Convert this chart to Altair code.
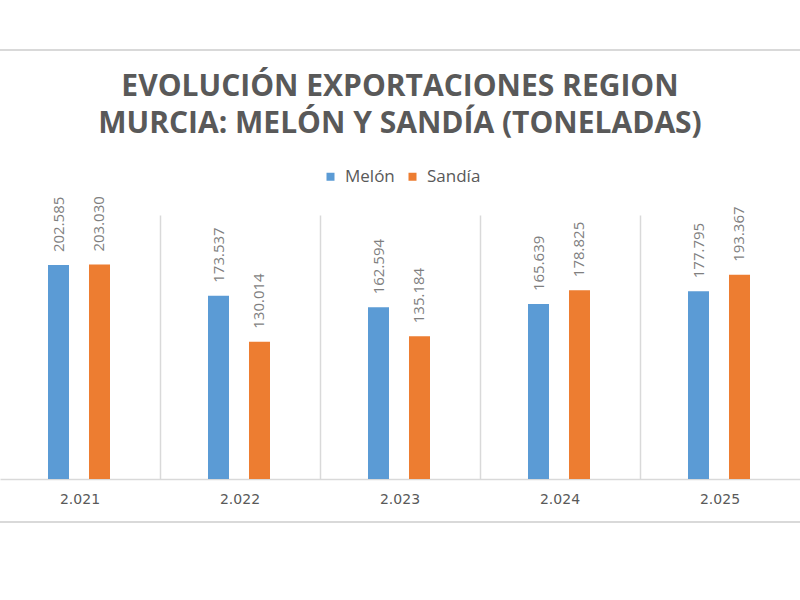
import altair as alt
import pandas as pd

years = ["2.021", "2.022", "2.023", "2.024", "2.025"]
melon = [202585, 173537, 162594, 165639, 177795]
sandia = [203030, 130014, 135184, 178825, 193367]
series = ["Melón", "Sandía"]
colors = ["#5b9bd5", "#ed7d31"]

rows = []
for i, y in enumerate(years):
    rows.append({"year": y, "serie": "Melón", "value": melon[i]})
    rows.append({"year": y, "serie": "Sandía", "value": sandia[i]})
df = pd.DataFrame(rows)

FONT = "Open Sans"

x_enc = alt.X(
    "year:N",
    sort=years,
    title=None,
    scale=alt.Scale(paddingInner=0, paddingOuter=0),
    axis=alt.Axis(
        grid=True,
        gridColor="#d9d9d9",
        gridWidth=1.5,
        gridOpacity={"condition": {"test": "datum.value === '2.021'", "value": 0}, "value": 1},
        bandPosition=0,
        ticks=False,
        domainColor="#d9d9d9",
        domainWidth=1.5,
        labelFont="DejaVu Sans",
        labelFontSize=14,
        labelColor="#595959",
        labelPadding=13,
        labelAngle=0,
    ),
)
xoff = alt.XOffset(
    "serie:N",
    sort=series,
    scale=alt.Scale(range=[48, 110], paddingInner=0.4878, paddingOuter=0),
)
y_enc = alt.Y("value:Q", scale=alt.Scale(domain=[0, 250000]), axis=None)

base = alt.Chart(df)

bars = base.mark_bar().encode(
    x=x_enc,
    xOffset=xoff,
    y=y_enc,
    color=alt.Color(
        "serie:N",
        sort=series,
        scale=alt.Scale(domain=series, range=colors),
        legend=alt.Legend(
            title=None,
            orient="none",
            direction="horizontal",
            legendX=322,
            legendY=-47,
            symbolType="square",
            symbolSize=64,
            symbolStrokeWidth=0,
            labelFont=FONT,
            labelFontSize=17,
            labelColor="#595959",
            labelOffset=6,
            columnPadding=9,
        ),
    ),
)

labels = base.transform_calculate(
    lbl="replace(format(datum.value, ','), ',', '.')"
).mark_text(
    angle=270,
    align="left",
    baseline="middle",
    dx=13,
    font=FONT,
    fontSize=15,
    color="#7f7f7f",
).encode(
    x=alt.X("year:N", sort=years),
    xOffset=xoff,
    y=y_enc,
    text="lbl:N",
)

border_top = alt.Chart(pd.DataFrame({"pos": [-165]})).mark_rule(
    color="#d9d9d9", strokeWidth=2
).encode(
    x=alt.value(-10),
    x2=alt.value(810),
    y=alt.value(-165),
)
border_bottom = alt.Chart(pd.DataFrame({"pos": [307]})).mark_rule(
    color="#d9d9d9", strokeWidth=2
).encode(
    x=alt.value(-10),
    x2=alt.value(810),
    y=alt.value(307),
)

chart = alt.layer(bars, labels, border_top, border_bottom).properties(
    width=800,
    height=264,
    padding={"top": 215, "left": 0, "right": 0, "bottom": 121},
    autosize=alt.AutoSizeParams(type="none"),
    title=alt.TitleParams(
        text=["EVOLUCIÓN EXPORTACIONES REGION", "MURCIA: MELÓN Y SANDÍA (TONELADAS)"],
        font=FONT,
        fontSize=30,
        fontWeight="bold",
        color="#595959",
        lineHeight=37,
        anchor="middle",
        offset=-90,
    ),
).configure_view(stroke=None)

chart.save("out.html", embed_options={"renderer": "svg", "actions": False})
